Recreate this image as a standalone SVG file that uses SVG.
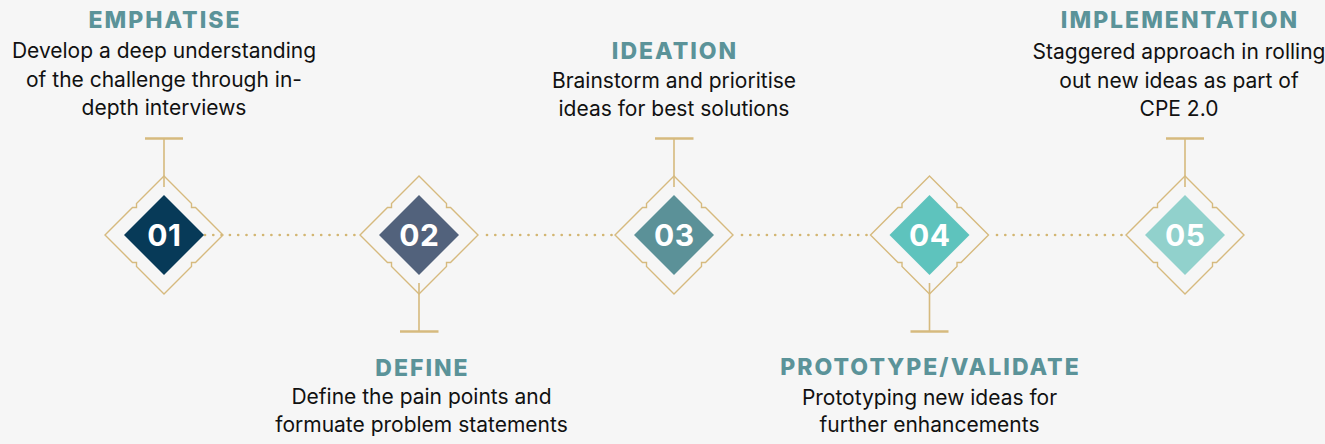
<svg xmlns="http://www.w3.org/2000/svg" width="1325" height="444" viewBox="0 0 1325 444">
<defs>
<style>
.bg{fill:#f6f6f6}
.frame{fill:none;stroke:#d6ba7e;stroke-width:1.4}
.stem{stroke:#d6ba7e;stroke-width:1.6}
.bar{stroke:#d6ba7e;stroke-width:2.6}
.dots{stroke:#d3b672;stroke-width:2.7;stroke-linecap:round;stroke-dasharray:0 8.3;fill:none}
.num{font-family:Inter,"Open Sans","Liberation Sans",sans-serif;font-weight:700;font-size:30px;letter-spacing:0.5px;fill:#ffffff;text-anchor:middle}
.title{font-family:Inter,"Open Sans","Liberation Sans",sans-serif;font-weight:800;font-size:23px;letter-spacing:2px;fill:#5b9399;text-anchor:middle}
.body{font-family:Inter,"Open Sans","Liberation Sans",sans-serif;font-size:21px;fill:#111111;text-anchor:middle}
</style>
<path id="frm" d="M0,-59 L-27.5,-31.5 L-27.5,-27.5 L-31.5,-27.5 L-59,0 L-31.5,27.5 L-27.5,27.5 L-27.5,31.5 L0,59 L27.5,31.5 L27.5,27.5 L31.5,27.5 L59,0 L31.5,-27.5 L27.5,-27.5 L27.5,-31.5 Z"/>
</defs>
<rect class="bg" x="0" y="0" width="1325" height="444"/>
<g id="connectors">
<line class="dots" x1="205" y1="235" x2="358" y2="235"/>
<line class="dots" x1="487" y1="235" x2="614" y2="235"/>
<line class="dots" x1="742" y1="235" x2="869" y2="235"/>
<line class="dots" x1="997" y1="235" x2="1124" y2="235"/>
</g>
<g id="node1">
<line class="bar" x1="145" y1="138.5" x2="183" y2="138.5"/>
<line class="stem" x1="164" y1="139" x2="164" y2="187"/>
<use href="#frm" class="frame" x="164" y="235"/>
<path d="M164,195 L204,235 L164,275 L124,235 Z" fill="#073a58"/>
<text class="num" x="164.3" y="245.5">01</text>
<text class="title" x="165" y="28">EMPHATISE</text>
<text class="body" x="164" y="58">Develop a deep understanding</text>
<text class="body" x="164" y="86.5">of the challenge through in-</text>
<text class="body" x="164" y="115">depth interviews</text>
</g>
<g id="node2">
<line class="bar" x1="400" y1="331.5" x2="438.5" y2="331.5"/>
<line class="stem" x1="419" y1="283" x2="419" y2="331"/>
<use href="#frm" class="frame" x="419" y="235"/>
<path d="M419,195 L459,235 L419,275 L379,235 Z" fill="#52627c"/>
<text class="num" x="419.3" y="245.5">02</text>
<text class="title" x="422.5" y="376">DEFINE</text>
<text class="body" x="421.5" y="404">Define the pain points and</text>
<text class="body" x="421.5" y="432">formuate problem statements</text>
</g>
<g id="node3">
<line class="bar" x1="655" y1="138.5" x2="693.5" y2="138.5"/>
<line class="stem" x1="674" y1="139" x2="674" y2="187"/>
<use href="#frm" class="frame" x="674" y="235"/>
<path d="M674,195 L714,235 L674,275 L634,235 Z" fill="#5b9198"/>
<text class="num" x="674.3" y="245.5">03</text>
<text class="title" x="675" y="58.5">IDEATION</text>
<text class="body" x="674" y="88">Brainstorm and prioritise</text>
<text class="body" x="674" y="115.5">ideas for best solutions</text>
</g>
<g id="node4">
<line class="bar" x1="910.5" y1="331.5" x2="948.5" y2="331.5"/>
<line class="stem" x1="929.5" y1="283" x2="929.5" y2="331"/>
<use href="#frm" class="frame" x="929.5" y="235"/>
<path d="M929.5,195 L969.5,235 L929.5,275 L889.5,235 Z" fill="#5ec3bd"/>
<text class="num" x="929.8" y="245.5">04</text>
<text class="title" x="930.5" y="374.5">PROTOTYPE/VALIDATE</text>
<text class="body" x="929.5" y="405">Prototyping new ideas for</text>
<text class="body" x="929.5" y="432">further enhancements</text>
</g>
<g id="node5">
<line class="bar" x1="1166" y1="138.5" x2="1204" y2="138.5"/>
<line class="stem" x1="1185" y1="139" x2="1185" y2="187"/>
<use href="#frm" class="frame" x="1185" y="235"/>
<path d="M1185,195 L1225,235 L1185,275 L1145,235 Z" fill="#91d1cc"/>
<text class="num" x="1185.3" y="245.5">05</text>
<text class="title" x="1180" y="28">IMPLEMENTATION</text>
<text class="body" x="1179" y="59">Staggered approach in rolling</text>
<text class="body" x="1179" y="87.5">out new ideas as part of</text>
<text class="body" x="1179" y="116">CPE 2.0</text>
</g>
</svg>
